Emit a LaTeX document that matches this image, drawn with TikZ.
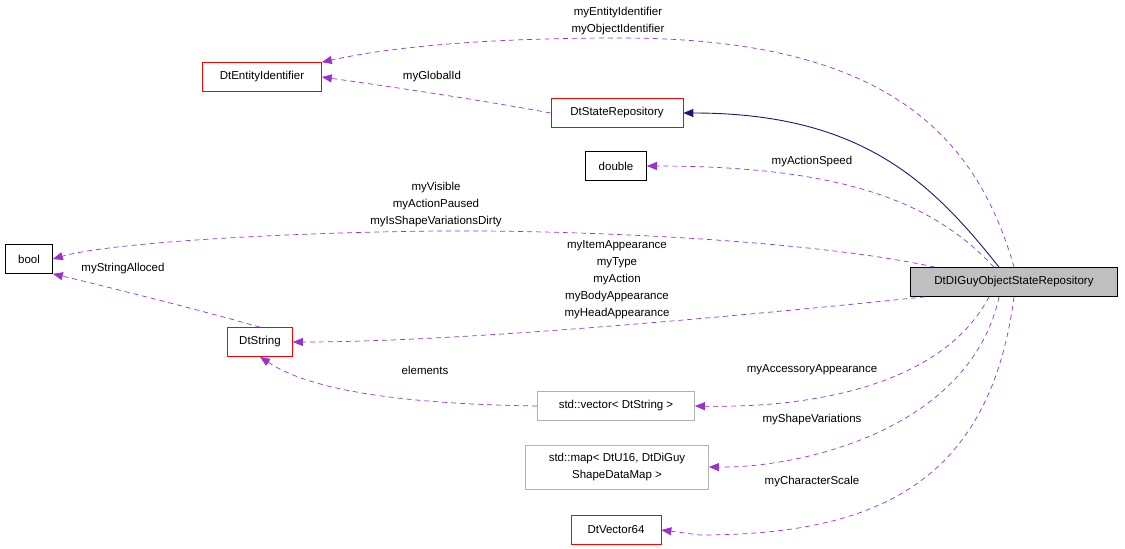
\documentclass[tikz,border=0pt]{standalone}
\usepackage{fontspec}
\setmainfont{Liberation Sans}
\usetikzlibrary{arrows.meta}
\definecolor{purp}{RGB}{154,50,205}
\definecolor{navy}{RGB}{25,25,112}
\begin{document}
\begin{tikzpicture}[x=1pt,y=-1pt,font=\fontsize{11.5}{13.5}\selectfont,
  box/.style={draw=#1,fill=white,inner sep=0pt,align=center,line width=0.7pt},
  usage/.style={purp,dash pattern=on 5pt off 4pt,line width=0.7pt,-{Triangle[length=10pt,width=8pt]}},
  inh/.style={navy,line width=0.9pt,-{Triangle[length=10pt,width=8pt]}},
  lbl/.style={align=center,inner sep=0pt,font=\fontsize{11.5}{17}\selectfont}]
\useasboundingbox (0,0) rectangle (1125,549);
\node[box=red,minimum width=119pt,minimum height=29pt] (ent) at (262,77) {DtEntityIdentifier};
\node[box=red,minimum width=132pt,minimum height=29pt] (sr) at (617,113) {DtStateRepository};
\node[box=black,minimum width=61pt,minimum height=29pt] (dbl) at (616,166) {double};
\node[box=black,minimum width=47pt,minimum height=29pt] (bool) at (29,259) {bool};
\node[box=black,fill={rgb,255:red,191;green,191;blue,191},minimum width=207pt,minimum height=29pt] (main) at (1014,282) {DtDIGuyObjectStateRepository};
\node[box=red,minimum width=65pt,minimum height=29pt] (str) at (260,342) {DtString};
\node[box=gray!60,minimum width=157pt,minimum height=29pt] (vec) at (616,406) {std::vector\textless{} DtString \textgreater};
\node[box=gray!60,minimum width=183pt,minimum height=44pt,font=\fontsize{11.5}{17}\selectfont] (map) at (617,467) {std::map\textless{} DtU16, DtDiGuy\\ShapeDataMap \textgreater};
\node[box=red,minimum width=90pt,minimum height=29pt] (v64) at (616,530) {DtVector64};

\draw[usage] (main.north) ++(0,0) .. controls (975,130) and (880,38) .. (620,38) .. controls (500,38) and (400,45) .. (ent.north east);
\node[lbl] at (618,21) {myEntityIdentifier\\myObjectIdentifier};
\draw[usage] (sr.west) .. controls (480,100) and (400,88) .. (ent.east);
\node[lbl] at (432,77) {myGlobalId};
\draw[inh] (main.north) ++(-15,0) .. controls (930,180) and (860,113) .. (sr.east);
\draw[usage] (main.north) ++(-20,0) .. controls (940,210) and (860,166) .. (dbl.east);
\node[lbl] at (812,162) {myActionSpeed};
\draw[usage] (main.north west) ++(25,0) .. controls (800,238) and (560,230) .. (440,231) .. controls (250,233) and (100,245) .. (bool.east);
\node[lbl] at (436,205) {myVisible\\myActionPaused\\myIsShapeVariationsDirty};
\draw[usage] (main.south west) ++(15,0) .. controls (700,320) and (450,342) .. (str.east);
\node[lbl] at (617,280) {myItemAppearance\\myType\\myAction\\myBodyAppearance\\myHeadAppearance};
\draw[usage] (str.north) .. controls (200,310) and (100,285) .. (bool.south east);
\node[lbl] at (123,269) {myStringAlloced};
\draw[usage] (vec.west) .. controls (400,404) and (310,390) .. (str.south);
\node[lbl] at (425,370) {elements};
\draw[usage] (main.south) ++(-25,0) .. controls (940,390) and (800,408) .. (vec.east);
\node[lbl] at (812,370) {myAccessoryAppearance};
\draw[usage] (main.south) ++(-15,0) .. controls (970,430) and (800,468) .. (map.east);
\node[lbl] at (812,420) {myShapeVariations};
\draw[usage] (main.south) .. controls (990,480) and (880,535) .. (700,535) -- (v64.east);
\node[lbl] at (812,482) {myCharacterScale};
\end{tikzpicture}
\end{document}
